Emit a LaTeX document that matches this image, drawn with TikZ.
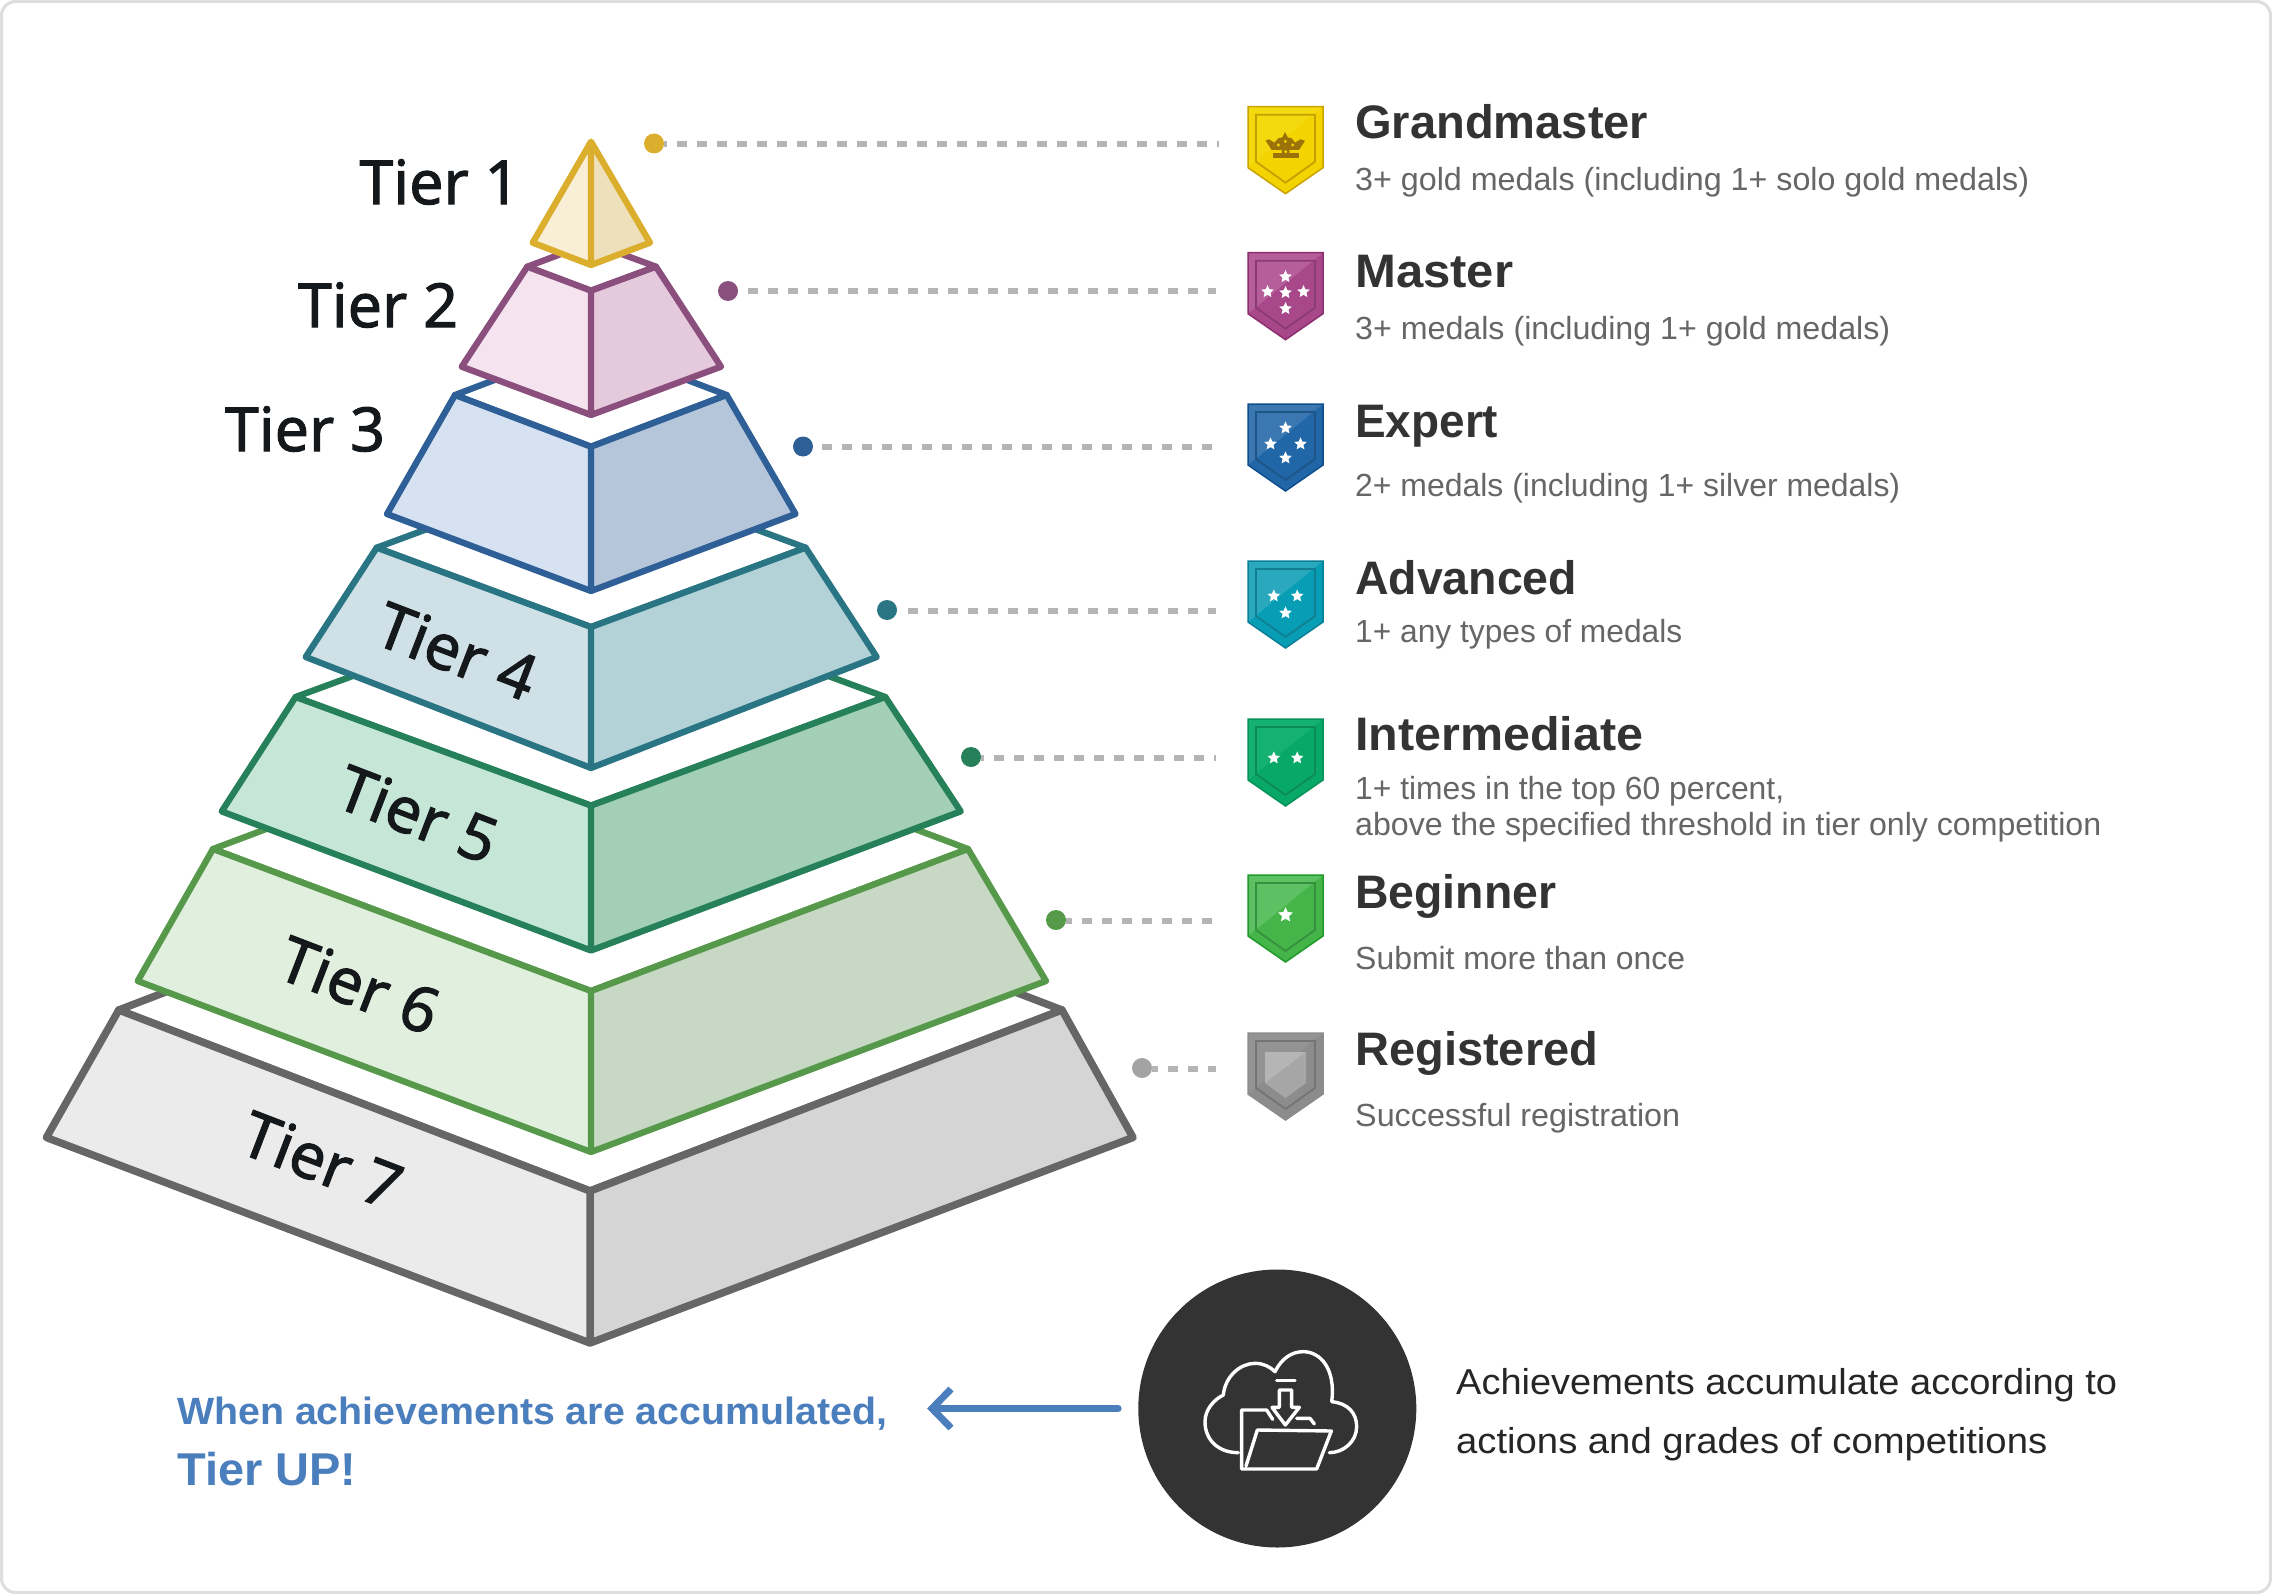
\documentclass[tikz,border=0pt]{standalone}
\usepackage{fontspec}
\usepackage{graphicx}
\setmainfont{Liberation Sans}
\newfontfamily\tierfont[FakeBold=1.6]{Noto Sans}
\definecolor{ink}{HTML}{333333}
\definecolor{sub}{HTML}{666666}
\definecolor{tierink}{HTML}{14181B}
\definecolor{blueact}{HTML}{4A7EBD}
\definecolor{dashc}{HTML}{B5B5B5}
\definecolor{t7l}{HTML}{EBEBEB}\definecolor{t7r}{HTML}{D5D5D5}\definecolor{t7s}{HTML}{666666}
\definecolor{t6l}{HTML}{E1EFDE}\definecolor{t6r}{HTML}{C7D9C5}\definecolor{t6s}{HTML}{56994A}
\definecolor{t5l}{HTML}{C6E6D8}\definecolor{t5r}{HTML}{A3CFB7}\definecolor{t5s}{HTML}{268059}
\definecolor{t4l}{HTML}{CFE1E6}\definecolor{t4r}{HTML}{B3D2D8}\definecolor{t4s}{HTML}{2A7584}
\definecolor{t3l}{HTML}{D6E2F1}\definecolor{t3r}{HTML}{B6C6DA}\definecolor{t3s}{HTML}{2E5F96}
\definecolor{t2l}{HTML}{F5E3F0}\definecolor{t2r}{HTML}{E5C9DD}\definecolor{t2s}{HTML}{8B4F7D}
\definecolor{t1l}{HTML}{F8EFD6}\definecolor{t1r}{HTML}{EDE0BB}\definecolor{t1s}{HTML}{DBAE2E}
\definecolor{crownc}{HTML}{9A7208}
\definecolor{crownb}{HTML}{F3D300}
\newcommand\fitw[2]{\resizebox{#1pt}{\height}{#2}}
\tikzset{
  titlet/.style={anchor=base west,inner sep=0pt,text=ink,font=\fontsize{47}{50}\selectfont\bfseries},
  subt/.style={anchor=base west,inner sep=0pt,text=sub,font=\fontsize{32}{36}\selectfont},
  tierl/.style={inner sep=0pt,text=tierink,font=\fontsize{61}{64}\selectfont\tierfont},
  tierr/.style={inner sep=0pt,text=tierink,rotate=-21,font=\fontsize{63}{66}\selectfont\tierfont},
  tierdot/.style={circle,inner sep=0pt,minimum size=20pt,fill=#1},
  leader/.style={draw=dashc,line width=6pt,dash pattern=on 10pt off 10pt},
  bluet/.style={anchor=base west,inner sep=0pt,text=blueact,font=\bfseries},
  bodyt/.style={anchor=base west,inner sep=0pt,text=black!85,font=\fontsize{36}{40}\selectfont},
  iconl/.style={draw=white,line width=3.4pt,line join=round,line cap=round}
}
% tier: colour-key(t7..t1) width centre  tlx trx topY frontY blx brx sideY botY
\newcommand\tier[3]{\def\tK{#1}\def\tW{#2}\def\tC{#3}\tierc}
\newcommand\tierc[8]{%
  \pgfmathsetmacro\backy{#3-(#4-#3)}%
  \fill[fill=white,draw=\tK s,line width=\tW pt,line join=round] (#1,#3)--(\tC,\backy)--(#2,#3)--(\tC,#4)--cycle;
  \fill[fill=\tK l] (#1,#3)--(\tC,#4)--(\tC,#8)--(#5,#7)--cycle;
  \fill[fill=\tK r] (#2,#3)--(\tC,#4)--(\tC,#8)--(#6,#7)--cycle;
  \draw[draw=\tK s,line width=\tW pt,line join=round] (#1,#3)--(\tC,#4)--(#2,#3)--(#6,#7)--(\tC,#8)--(#5,#7)--cycle (\tC,#4)--(\tC,#8);
}
% star in local coordinates
\def\sr{6.6}\def\si{3.1}
\newcommand\bstar[2]{\fill[fill=white,shift={(#1,#2)}] (270:\sr)--(306:\si)--(342:\sr)--(18:\si)--(54:\sr)--(90:\si)--(126:\sr)--(162:\si)--(198:\sr)--(234:\si)--cycle;}
% badge: top fill light edge inner (opens a scope)
\newcommand\badge[5]{%
  \definecolor{bf}{HTML}{#2}\definecolor{bl}{HTML}{#3}\definecolor{be}{HTML}{#4}\definecolor{bi}{HTML}{#5}%
  \begin{scope}[shift={(1285.5,#1)}]
  \fill[fill=bf] (-37.5,0)--(37.5,0)--(37.5,61)--(0,87)--(-37.5,61)--cycle;
  \fill[fill=bl] (-37.5,0)--(37.5,0)--(-37.5,61)--cycle;
  \draw[draw=bi,line width=1.8pt] (-29.5,8)--(29.5,8)--(29.5,55)--(0,76)--(-29.5,55)--cycle;
  \draw[draw=be,line width=1.5pt,line join=miter] (-37.5,0)--(37.5,0)--(37.5,61)--(0,87)--(-37.5,61)--cycle;
}
\begin{document}
\begin{tikzpicture}[x=1pt,y=-1pt]
\useasboundingbox (0,0) rectangle (2272,1594);
\fill[white] (0,0) rectangle (2272,1594);
\draw[draw=black!13,line width=3pt,rounded corners=14pt] (1.5,1.5) rectangle (2270.5,1592.5);

% ---- pyramid, bottom up
\tier{t7}{7.5}{590}{118.8}{1062}{1010}{1191}{46.4}{1133}{1137.5}{1343}
\tier{t6}{6.3}{591}{213}{968}{849}{991}{137.7}{1046}{981}{1152}
\tier{t5}{6.3}{591}{295.6}{885.3}{697}{805.6}{221.7}{960.7}{811.4}{950.5}
\tier{t4}{6.3}{591}{376.7}{805.6}{547.7}{627}{305.7}{876.7}{657}{768}
\tier{t3}{6.3}{591}{455}{726.7}{395}{446.7}{387}{795.5}{514}{591}
\tier{t2}{6.3}{591}{527.3}{656}{266.7}{290.7}{461.7}{721}{366.7}{415}
\fill[t1l] (591,141.7)--(532.7,242.7)--(591,265)--cycle;
\fill[t1r] (591,141.7)--(650,242.7)--(591,265)--cycle;
\draw[t1s,line width=6.3pt,line join=round] (591,141.7)--(650,242.7)--(591,265)--(532.7,242.7)--cycle (591,141.7)--(591,265);

% ---- tier labels
\node[tierl] (l1) at (439.5,182) {Tier 1};
\node[tierl] (l2) at (378,305) {Tier 2};
\node[tierl] (l3) at (305,429) {Tier 3};
\node[tierr] (l4) at (457,651) {Tier 4};
\node[tierr] (l5) at (418,814) {Tier 5};
\node[tierr] (l6) at (359.5,985) {Tier 6};
\node[tierr] (l7) at (322,1160) {Tier 7};

% ---- leaders
\coordinate (e1) at (1219,144.5);
\coordinate (e2) at (1216,291.5);
\coordinate (e3) at (1212,446.5);
\coordinate (e4) at (1216,610.5);
\coordinate (e5) at (1216,758);
\coordinate (e6) at (1212,920.5);
\coordinate (e7) at (1216,1068.5);
\node[tierdot=t1s] (d1) at (654,143.5) {};
\node[tierdot=t2s] (d2) at (728,291) {};
\node[tierdot=t3s] (d3) at (803,446.5) {};
\node[tierdot=t4s] (d4) at (887,610) {};
\node[tierdot=t5s] (d5) at (971,757) {};
\node[tierdot=t6s] (d6) at (1056,920) {};
\node[tierdot=dashc!90!black] (d7) at (1142,1068) {};
\draw[leader,dash phase=7.3pt] (d1.center)++(10,1) -- (e1);
\draw[leader] (d2.center)++(20,.5) -- (e2);
\draw[leader] (d3.center)++(19,0) -- (e3);
\draw[leader] (d4.center)++(21,.5) -- (e4);
\draw[leader,dash phase=7pt] (d5.center)++(10,1) -- (e5);
\draw[leader,dash phase=4pt] (d6.center)++(10,.5) -- (e6);
\draw[leader,dash phase=4pt] (d7.center)++(10,.5) -- (e7);

% ---- badges
\badge{106.7}{F3D300}{F5D90F}{C9A400}{C2A100}
\end{scope}
\begin{scope}[shift={(1255,120)},x=.33333pt,y=-.33333pt]
\fill[crownc] (50,90)--(32,62)--(42,58)--(58,68)--(70,55)--(82,52)--(90,36)--(98,52)--(110,55)--(120,68)--(136,58)--(150,62)--(132,90)--cycle;
\fill[crownb] (70,75) circle[radius=5];
\fill[crownb] (91,64) circle[radius=5];
\fill[crownb] (113,75) circle[radius=5];
\fill[crownc] (55,98) rectangle (133,113);
\fill[crownc] (92,95) circle[radius=12];
\fill[crownb] (92,95) circle[radius=5];
\end{scope}
\badge{252.7}{A8488A}{B65E99}{8B2F6F}{8A3B74}
\bstar{0}{24}\bstar{-18}{39}\bstar{0}{40}\bstar{18}{39}\bstar{0}{56}
\end{scope}
\badge{404}{2167A8}{3B78B2}{0E4E8C}{1E5588}
\bstar{0}{24}\bstar{-15}{40}\bstar{15}{40}\bstar{0}{54}
\end{scope}
\badge{561}{079DB5}{2AA8BE}{0A7F98}{107E93}
\bstar{-11.7}{35}\bstar{11.7}{35}\bstar{0}{52}
\end{scope}
\badge{719}{08A868}{14B172}{07925A}{0D8A5A}
\bstar{-11.7}{39}\bstar{11.7}{39}
\end{scope}
\badge{875}{46B549}{5DC062}{1F9A2A}{35903F}
\def\sr{7.8}\def\si{3.7}\bstar{0}{40}
\end{scope}
\badge{1033}{8C8C8C}{939393}{8C8C8C}{747474}
\fill[black!35] (-20.5,19)--(20.5,19)--(20.5,50)--(0,65)--(-20.5,50)--cycle;
\fill[black!29] (-20.5,19)--(20.5,19)--(-20.5,50)--cycle;
\end{scope}

% ---- legend text
\node[titlet] (tg) at (1355,139) {\fitw{293}{Grandmaster}};
\node[subt] (sg) at (1355,191) {\fitw{674}{3+ gold medals (including 1+ solo gold medals)}};
\node[titlet] (tm) at (1355,288) {\fitw{158}{Master}};
\node[subt] (sm) at (1355,340) {\fitw{535}{3+ medals (including 1+ gold medals)}};
\node[titlet] (te) at (1355,437) {\fitw{143}{Expert}};
\node[subt] (se) at (1355,496.5) {\fitw{545}{2+ medals (including 1+ silver medals)}};
\node[titlet] (ta) at (1355,594) {\fitw{222}{Advanced}};
\node[subt] (sa) at (1355,642.5) {\fitw{327}{1+ any types of medals}};
\node[titlet] (ti) at (1355,750.5) {\fitw{288}{Intermediate}};
\node[subt] (si) at (1355,799.5) {\fitw{429}{1+ times in the top 60 percent,}};
\node[subt] (si2) at (1355,835.5) {\fitw{746}{above the specified threshold in tier only competition}};
\node[titlet] (tb) at (1355,908.5) {\fitw{201}{Beginner}};
\node[subt] (sb) at (1355,969) {\fitw{330}{Submit more than once}};
\node[titlet] (tr) at (1355,1065.5) {\fitw{243}{Registered}};
\node[subt] (sr) at (1355,1126) {\fitw{325}{Successful registration}};

% ---- bottom
\node[circle,fill=ink,minimum size=278pt,inner sep=0pt] (circ) at (1277.3,1408.5) {};
\begin{scope}[shift={(1120,1250)},x=.33333pt,y=-.33333pt]
\draw[iconl] (355,608) .. controls (295,608) and (255,570) .. (255,515) .. controls (255,480) and (280,450) .. (310,435) .. controls (315,380) and (360,340) .. (405,340) .. controls (430,340) and (450,350) .. (465,365) .. controls (485,325) and (515,305) .. (550,305) .. controls (600,305) and (648,355) .. (635,455) .. controls (685,460) and (710,490) .. (710,530) .. controls (710,575) and (670,608) .. (628,608);
\draw[iconl] (470,392)--(525,392);
\draw[iconl] (478,420)--(478,472)--(456,472)--(496,525)--(538,472)--(515,472)--(515,420)--cycle;
\draw[iconl] (458,508)--(440,480)--(365,480)--(365,657)--(590,657)--(634,543)--(412,540)--(378,648);
\draw[iconl] (530,505)--(570,505)--(583,522);
\end{scope}
\coordinate (tip) at (932,1408.5);
\draw[blueact,line width=7pt,line cap=round,shorten <=20pt] (circ.west) -- (tip);
\draw[blueact,line width=7pt,line join=miter] (951,1389)--(932,1408.5)--(951,1428);

\node[bluet,font=\fontsize{38}{42}\selectfont\bfseries] (w1) at (177,1424.5) {\fitw{710}{When achievements are accumulated,}};
\node[bluet,font=\fontsize{46}{50}\selectfont\bfseries] (w2) at (177,1485) {\fitw{179}{Tier UP!}};
\node[bodyt] (b1) at (1456,1394) {\fitw{661}{Achievements accumulate according to}};
\node[bodyt] (b2) at (1456,1453.5) {\fitw{591}{actions and grades of competitions}};
\end{tikzpicture}
\end{document}
